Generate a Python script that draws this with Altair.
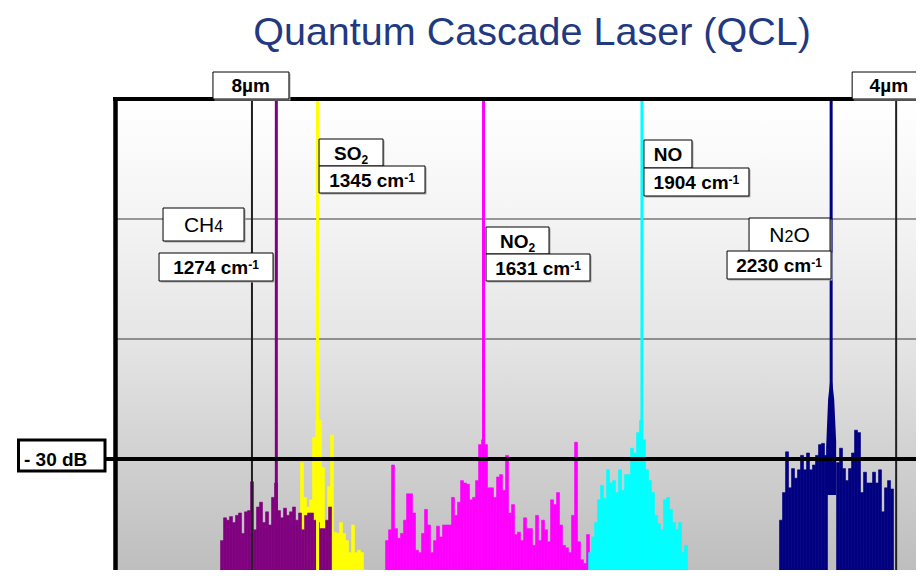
import altair as alt
import pandas as pd

# ------------------------------------------------------------------ data
TITLE = "Quantum Cascade Laser (QCL)"
GASES = ["CH4", "SO2", "NO2", "NO", "N2O"]
PEAK_WN = [1274, 1345, 1631, 1904, 2230]
PEAK_COLORS = ["#800080", "#FFFF00", "#FF00FF", "#00FFFF", "#000080"]
PEAK_BASE_DB = [-40, -40, -40, -40, -33]

# side modes: first mode position (cm-1), spacing, and level of every mode (dB)
MODE_START_WN = [1180.4, 1318.2, 1464.7, 1814.5, 2143.6]
MODE_STEP_WN = 5.17
CH4_MODES_DB = [-36.8, -34.9, -35.1, -34.8, -35.3, -34.7, -34.5, -36.2, -34.4, -34.3,
                -31.9, -35.9, -34.0, -33.6, -35.3, -34.4, -35.5, -33.2, -32.0, -34.3,
                -34.9, -34.1, -34.7, -34.4, -34.0, -35.1, -34.5, -35.9, -34.7, -34.5,
                -34.5, -35.1, -35.3, -35.8, -35.8, -35.1, -34.0]
SO2_MODES_DB = [-30.3, -33.2, -34.0, -33.4, -28.2, -26.8, -26.8, -30.7, -35.1, -32.3,
                -28.0, -36.1, -36.2, -35.3, -36.2, -36.8, -37.8, -35.5, -37.8, -37.6,
                -37.8, -39.3]
NO2_MODES_DB = [-36.8, -35.9, -30.5, -35.8, -36.6, -36.2, -35.1, -32.9, -32.9, -34.5,
                -37.6, -37.8, -36.2, -34.2, -35.5, -37.8, -36.8, -35.6, -36.5, -35.5,
                -35.5, -35.5, -33.2, -34.7, -33.6, -31.8, -32.0, -32.1, -33.4, -33.2,
                -31.8, -28.8, -28.4, -28.8, -32.4, -32.4, -33.2, -31.5, -31.3, -32.6,
                -29.7, -34.5, -33.8, -36.3, -36.1, -36.8, -34.9, -35.8, -35.8, -37.2,
                -34.7, -36.8, -35.1, -35.9, -36.9, -33.4, -33.8, -32.8, -35.5, -37.2,
                -37.4, -37.8, -34.7, -28.6, -36.9, -38.4, -38.7, -36.3]
NO_MODES_DB = [-37.8, -36.5, -35.3, -33.4, -32.2, -33.3, -30.9, -32.0, -31.8, -32.8,
               -30.9, -32.6, -31.3, -31.3, -29.1, -29.5, -27.8, -26.8, -28.4, -30.9,
               -31.8, -32.8, -34.7, -35.4, -35.9, -33.4, -33.2, -34.2, -35.3, -35.9,
               -35.3, -37.8, -37.2]
N2O_MODES_DB = [-35.1, -32.8, -29.4, -32.4, -30.8, -31.6, -30.9, -29.7, -30.9, -29.5,
                -30.9, -30.5, -29.7, -28.8, -28.7, -29.7, None, None, None, -30.3,
                -29.1, -30.8, -31.8, -30.8, -29.5, -27.6, -27.8, -32.8, -31.1, -32.0,
                -32.0, -31.1, -32.0, -30.9, -34.4, -32.4, -31.8, -32.5]
MODES_DB = [CH4_MODES_DB, SO2_MODES_DB, NO2_MODES_DB, NO_MODES_DB, N2O_MODES_DB]

# broadened foot of the N2O line (offset from line centre, cm-1 / level, dB)
N2O_FOOT_OFFSET = [-8.6, -5.2, -1.7, 0.0, 1.7, 5.2, 8.6]
N2O_FOOT_DB = [-29.0, -25.0, -23.5, 0.0, -23.5, -25.0, -28.5]

MARKER_TEXT = ["8µm", "4µm"]
MARKER_WN = [1232, 2342]
GRID_DB = [-10, -20]
REF_DB = -30
REF_TEXT = "- 30 dB"

# ------------------------------------------------------------------ layout
PAD_L, PAD_T = 107, 91
OX, OY = 8 + PAD_L, 8 + PAD_T          # page position of the plot origin
KX = 809 / 1394                        # px per cm-1
KY = 12.0                              # px per dB
W = 801
X_DOM = [996, 996 + W / KX]
Y_DOM = [-39.25, 0]
H = round((Y_DOM[1] - Y_DOM[0]) * KY)
FONT = "Liberation Sans"


def wn_px(wn):
    return OX + (wn - X_DOM[0]) * KX


def px_wn(px):
    return X_DOM[0] + (px - OX) / KX


def py_db(py):
    return Y_DOM[1] - (py - OY) / KY


def X(field):
    return alt.X(field, type="quantitative", axis=None,
                 scale=alt.Scale(domain=X_DOM, nice=False, zero=False))


def Y(field):
    return alt.Y(field, type="quantitative", axis=None,
                 scale=alt.Scale(domain=Y_DOM, nice=False, zero=False))


one = pd.DataFrame({"k": [0]})

# ------------------------------------------------------------------ background
bg = alt.Chart(one).mark_rect(
    fill=alt.LinearGradient(
        gradient="linear", x1=0, x2=0, y1=0, y2=1,
        stops=[alt.GradientStop(color="#ffffff", offset=0),
               alt.GradientStop(color="#f4f4f4", offset=0.25),
               alt.GradientStop(color="#e6e6e6", offset=0.5),
               alt.GradientStop(color="#d0d0d0", offset=0.77),
               alt.GradientStop(color="#bebebe", offset=1)])
).encode(x=alt.value(0), x2=alt.value(W), y=alt.value(0), y2=alt.value(H))

grid = alt.Chart(pd.DataFrame({"db": GRID_DB})).mark_rule(
    color="#3a3a3a", strokeWidth=1.2
).encode(y=Y("db"), x=alt.value(0), x2=alt.value(W))

# ------------------------------------------------------------------ spectra
mode_layers = {}
for gas, start, levels, col in zip(GASES, MODE_START_WN, MODES_DB, PEAK_COLORS):
    rows = []
    for i, lv in enumerate(levels):
        if lv is None:
            continue
        c = start + i * MODE_STEP_WN
        rows.append({"x0": c - MODE_STEP_WN / 2, "x1": c + MODE_STEP_WN / 2,
                     "y0": Y_DOM[0], "y1": lv})
    mode_layers[gas] = alt.Chart(pd.DataFrame(rows)).mark_rect(
        color=col, stroke=col, strokeWidth=0.6
    ).encode(x=X("x0"), x2="x1", y=Y("y0"), y2="y1")

peaks_df = pd.DataFrame({"wn": PEAK_WN, "base": [max(b, Y_DOM[0]) for b in PEAK_BASE_DB],
                         "top": [0] * 5, "color": PEAK_COLORS})
peaks = alt.Chart(peaks_df).mark_rule(strokeWidth=3).encode(
    x=X("wn"), y=Y("base"), y2="top", color=alt.Color("color:N", scale=None))

foot_df = pd.DataFrame({"wn": [PEAK_WN[4] + o for o in N2O_FOOT_OFFSET],
                        "db": N2O_FOOT_DB, "base": [PEAK_BASE_DB[4]] * len(N2O_FOOT_DB)})
foot = alt.Chart(foot_df).mark_area(color=PEAK_COLORS[4], orient="vertical",
                                    interpolate="linear").encode(
    x=X("wn"), y=Y("db"), y2="base")

# ------------------------------------------------------------------ frame lines
markers = alt.Chart(pd.DataFrame({"wn": MARKER_WN})).mark_rule(
    color="#202020", strokeWidth=2
).encode(x=X("wn"), y=alt.value(0), y2=alt.value(H))

ref_line = alt.Chart(pd.DataFrame({"db": [REF_DB]})).mark_rule(
    color="black", strokeWidth=4
).encode(y=Y("db"), x=alt.value(106 - OX), x2=alt.value(W))

top_border = alt.Chart(one).mark_rule(color="black", strokeWidth=4).encode(
    y=alt.value(0), x=alt.value(-2), x2=alt.value(W))
left_border = alt.Chart(one).mark_rule(color="black", strokeWidth=4.5).encode(
    x=alt.value(0.5), y=alt.value(-2), y2=alt.value(H))

# ------------------------------------------------------------------ annotations
BOLD = {**{d: 556 for d in "0123456789"}, " ": 278, "c": 556, "m": 889, "-": 333,
        "S": 667, "O": 778, "N": 722, "d": 611, "B": 722, "µ": 611}
REG = {**{d: 556 for d in "0123456789"}, "C": 722, "H": 722, "N": 722, "O": 778}
STYLES = {"b19": (19, "bold", BOLD), "b12": (12, "bold", BOLD),
          "r21": (21, "normal", REG), "r16": (16, "normal", REG)}


def tw(text, style):
    size, _, table = STYLES[style]
    return sum(table.get(ch, 556) for ch in text) * size / 1000


# box x offsets relative to the line position (px), box top / bottom (page px)
NAME_BOX = [(-113.3, -32.3, 208, 241), (1.5, 65.5, 139, 166), (2.5, 65.5, 227, 254),
            (2.0, 50.0, 140, 168), (-82.1, -1.1, 218, 252)]
WN_BOX = [(-117.3, -3.3, 253, 281), (1.5, 107.5, 166, 193), (2.5, 106.5, 254, 281),
          (2.0, 107.0, 168, 196), (-104.1, -0.1, 251, 279)]
NAME_PIECES = [[("CH", "r21", 0), ("4", "r16", 0)],
               [("SO", "b19", 0), ("2", "b12", 4)],
               [("NO", "b19", 0), ("2", "b12", 4)],
               [("NO", "b19", 0)],
               [("N", "r21", 0), ("2", "r16", 0), ("O", "r21", 0)]]
# marker boxes: x offsets relative to the marker line, text centre offset
MARKER_BOX = [(-39, 37, -1), (-44, 40, -7)]

boxes, thick_boxes, texts = [], [], []


def add_box(x0, x1, y0, y1, store):
    store.append({"x0": px_wn(x0), "x1": px_wn(x1), "y0": py_db(y0), "y1": py_db(y1)})


def add_text(pieces, cx, base, left=None):
    total = sum(tw(t, s) for t, s, _ in pieces)
    x = cx - total / 2 if left is None else left
    for t, s, shift in pieces:
        texts.append({"x": px_wn(x), "y": py_db(base + shift), "text": t, "style": s})
        x += tw(t, s)


for i, wn in enumerate(PEAK_WN):
    p = wn_px(wn)
    a, b, t, u = NAME_BOX[i]
    add_box(p + a, p + b, t, u, boxes)
    add_text(NAME_PIECES[i], p + (a + b) / 2, (t + u) / 2 + 7)
    a, b, t, u = WN_BOX[i]
    add_box(p + a, p + b, t, u, boxes)
    add_text([(f"{wn} cm", "b19", 0), ("-1", "b12", -5)], p + (a + b) / 2, (t + u) / 2 + 7)

for txt, wn, (a, b, c) in zip(MARKER_TEXT, MARKER_WN, MARKER_BOX):
    p = wn_px(wn)
    add_box(p + a, p + b, 72, 99, boxes)
    add_text([(txt, "b19", 0)], p + c, 92)

ry = OY + (Y_DOM[1] - REF_DB) * KY
add_box(18.5, 105, ry - 19, ry + 12, thick_boxes)
add_text([(REF_TEXT, "b19", 0)], 0, ry + 7, left=24)

box_df = pd.DataFrame(boxes)
shadow = alt.Chart(box_df).mark_rect(fill="#a8a8a8", xOffset=1.5, x2Offset=1.5,
                                     yOffset=1.5, y2Offset=1.5).encode(
    x=X("x0"), x2="x1", y=Y("y0"), y2="y1")
box_layer = alt.Chart(box_df).mark_rect(fill="white", stroke="black", strokeWidth=1).encode(
    x=X("x0"), x2="x1", y=Y("y0"), y2="y1")
thick_layer = alt.Chart(pd.DataFrame(thick_boxes)).mark_rect(
    fill="white", stroke="black", strokeWidth=3).encode(
    x=X("x0"), x2="x1", y=Y("y0"), y2="y1")

text_df = pd.DataFrame(texts)
text_layers = []
for key, (size, weight, _) in STYLES.items():
    sub = text_df[text_df["style"] == key]
    if len(sub) == 0:
        continue
    text_layers.append(alt.Chart(sub).mark_text(
        font=FONT, fontSize=size, fontWeight=weight, color="black",
        align="left", baseline="alphabetic").encode(
        x=X("x"), y=Y("y"), text="text:N"))

title = alt.Chart(one).mark_text(
    text=TITLE, font=FONT, fontSize=39.5, color="#22397f", align="center",
    baseline="alphabetic").encode(x=alt.value(532 - OX), y=alt.value(45 - OY))

chart = alt.layer(
    bg, grid,
    mode_layers["SO2"], mode_layers["CH4"], mode_layers["NO2"],
    mode_layers["NO"], mode_layers["N2O"], foot, peaks,
    markers, ref_line, top_border, left_border,
    shadow, box_layer, thick_layer, *text_layers, title
).properties(
    width=W, height=H,
    autosize=alt.AutoSizeParams(type="none"),
    padding={"left": PAD_L, "top": PAD_T, "right": 0, "bottom": 0},
).configure_view(stroke="transparent")

chart.save("out.html", embed_options={"renderer": "svg", "actions": False})
